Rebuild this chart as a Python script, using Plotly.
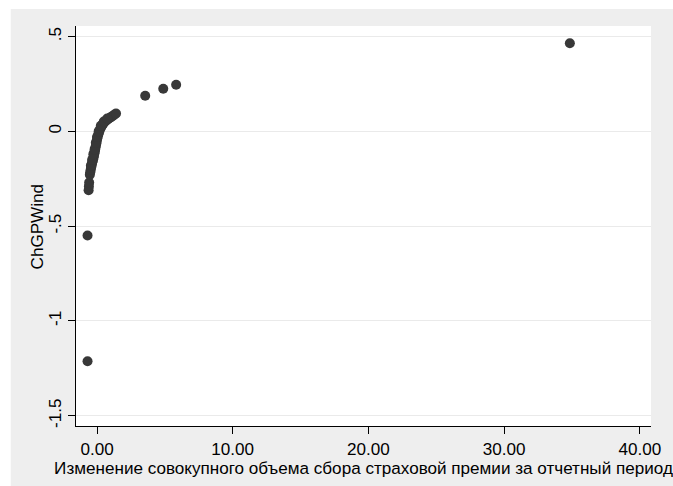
import plotly.graph_objects as go

# Dense cluster of observations near zero
curve_x = [-0.60, -0.62, -0.58, -0.53, -0.50, -0.47, -0.44, -0.41, -0.38, -0.35,
           -0.32, -0.29, -0.26, -0.23, -0.20, -0.17, -0.14, -0.11, -0.08, -0.05,
           -0.02, 0.02, 0.06, 0.10, 0.15, 0.20, 0.26, 0.32, 0.39, 0.46,
           0.54, 0.62, 0.71, 0.80, 0.90, 1.00, 1.10, 1.20, 1.30, 1.40,
           -0.45, -0.36, -0.27, -0.18, -0.09, 0.00, 0.12, 0.28, 0.50, 0.75]
curve_y = [-0.29, -0.31, -0.27, -0.228, -0.215, -0.203, -0.192, -0.182, -0.172, -0.163,
           -0.155, -0.147, -0.138, -0.128, -0.118, -0.108, -0.097, -0.085, -0.073, -0.062,
           -0.051, -0.038, -0.026, -0.015, -0.004, 0.007, 0.017, 0.025, 0.034, 0.041,
           0.048, 0.054, 0.059, 0.064, 0.069, 0.074, 0.079, 0.084, 0.089, 0.094,
           -0.180, -0.150, -0.120, -0.095, -0.060, -0.030, 0.000, 0.030, 0.052, 0.068]

# Isolated observations
outlier_x = [3.55, 4.88, 5.83, 34.84, -0.70, -0.70]
outlier_y = [0.188, 0.225, 0.246, 0.465, -0.549, -1.212]

x_ticks = [0, 10, 20, 30, 40]
x_ticktext = ["0.00", "10.00", "20.00", "30.00", "40.00"]
y_ticks = [0.5, 0, -0.5, -1, -1.5]
y_ticktext = [".5", "0", "-.5", "-1", "-1.5"]

x_title = "Изменение совокупного объема сбора страховой премии за отчетный период"
y_title = "ChGPWind"

marker_color = "#383838"
bg_gray = "#eeeeee"
font_family = "Liberation Sans, Arial, sans-serif"
font_size = 17.1

plot_w = 673 - 76 - 15.3

fig = go.Figure()
fig.add_trace(go.Scatter(
    x=curve_x + outlier_x, y=curve_y + outlier_y, mode="markers",
    marker=dict(color=marker_color, size=10, line=dict(width=0)),
    showlegend=False, hoverinfo="skip",
))

fig.update_layout(
    width=673, height=486,
    margin=dict(l=76, r=15.3, t=26, b=60),
    paper_bgcolor=bg_gray, plot_bgcolor="white",
    font=dict(family=font_family, size=font_size, color="black"),
    xaxis=dict(
        range=[-1.55, 40.82], tickvals=x_ticks, ticktext=x_ticktext,
        showgrid=False, zeroline=False, showline=True, linecolor="black",
        linewidth=1, ticks="outside", ticklen=7, tickcolor="black",
        tickfont=dict(size=font_size),
        title=dict(text=x_title, font=dict(size=font_size), standoff=1),
    ),
    yaxis=dict(
        range=[-1.554, 0.556], tickvals=y_ticks, ticktext=y_ticktext,
        tickangle=-90, showgrid=True, gridcolor="#eaeaea", gridwidth=1,
        zeroline=False, showline=True, linecolor="black", linewidth=1,
        ticks="outside", ticklen=7, tickcolor="black",
        tickfont=dict(size=font_size),
    ),
    annotations=[
        dict(text=y_title, xref="paper", yref="paper",
             x=(37 - 76) / plot_w, y=0.5, xanchor="center", yanchor="middle",
             textangle=-90, showarrow=False, font=dict(size=font_size)),
    ],
    shapes=[
        # white page margin on the left and top of the gray frame
        dict(type="rect", xref="paper", yref="paper", layer="below",
             x0=-0.2, x1=(10 - 76) / plot_w, y0=-0.2, y1=1.2,
             fillcolor="white", line=dict(width=0)),
        dict(type="rect", xref="paper", yref="paper", layer="below",
             x0=-0.2, x1=1.2, y0=(426 - 9) / 400, y1=1.2,
             fillcolor="white", line=dict(width=0)),
    ],
)

fig.write_html("out.html")
